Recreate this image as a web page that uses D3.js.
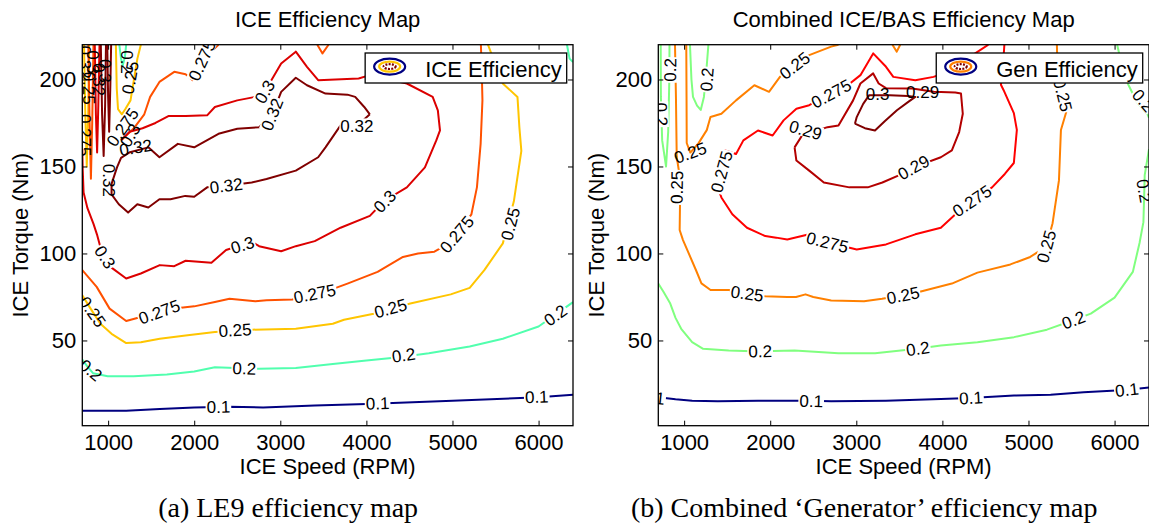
<!DOCTYPE html>
<meta charset="utf-8">

<!-- Load d3.js -->
<script src="https://d3js.org/d3.v7.min.js"></script>
<style>
  body { margin: 0; background: #fff; }
  svg { display: block; }
</style>

<div id="chart"></div>

<script>

// axis ranges and ticks, shared by both maps
const rpmDomain = [700, 6400];
const torqueDomain = [1, 220];
const rpmTicks = [1000, 2000, 3000, 4000, 5000, 6000];
const torqueTicks = [50, 100, 150, 200];

// ---- (a) ICE efficiency map: contour lines as [rpm, torque] ----
const iceLevels = [0.1, 0.2, 0.25, 0.275, 0.3, 0.32];

const ice010 = [[700,9.6],[1210,9.6],[1600,10.6],[2000,11.5],[2410,11.9],[2800,11.5],[3400,12.6],[4000,13.5],[5000,15.4],[6000,17.3],[6400,18.8]];
const ice020 = [[700,39],[760,35],[824,31.2],[995,29.4],[1296,29.4],[1682,30.4],[2000,32.1],[2240,34.6],[2755,33.7],[3180,34.2],[3610,36.5],[4000,38.5],[4380,40.4],[4725,42.7],[5200,46.5],[5585,51],[6000,58],[6400,72]];
const ice020Top = [[1130,220],[1150,212],[1170,208],[1195,213],[1210,220]];
const ice020Corner = [[6330,220],[6360,212],[6400,210]];
const ice025 = [[700,76],[800,68],[910,59.6],[1040,53.8],[1210,48.5],[1380,49],[1600,51],[1900,52.9],[2240,54.8],[2670,56.2],[3180,56.7],[3610,59.6],[3740,61.9],[4085,65.4],[4510,71.2],[4980,76.5],[5200,80.2],[5370,90.4],[5585,105.8],[5713,130],[5800,159],[5777,172.6],[5755,190],[5584,197.7],[5412,220]];
const ice025Top = [[1090,220],[1100,195],[1115,183],[1160,180],[1200,183],[1260,188],[1300,200],[1340,212],[1380,220]];
const ice025Spike = [[720,220],[735,180],[752,150],[768,180],[780,220]];
const ice0275 = [[700,90.4],[867,80.8],[1017,68.3],[1210,61.2],[1380,63.5],[1553,64.4],[1768,68.3],[2000,69.6],[2240,72.1],[2410,74],[2710,72.5],[2840,73.1],[3140,73.5],[3440,76.5],[3780,82.7],[4130,89.4],[4425,98],[4600,100],[4790,101],[4960,105.8],[5048,111],[5220,122.5],[5284,138],[5327,163],[5348,188],[5340,205],[5330,220]];
const ice0275Top = [[1150,165],[1300,172],[1420,180],[1488,190],[1596,198.6],[1768,204.4],[1900,203],[1982,199.6],[2089,211],[2282,220]];
const ice0275Dip = [[3430,220],[3490,215],[3560,220]];
const ice0275Spike = [[770,220],[785,175],[800,143],[815,175],[830,220]];
const ice030 = [[700,160],[705,148],[715,135],[760,126],[830,117],[870,111],[930,100],[1035,92],[1210,85.6],[1380,88.5],[1600,93.3],[1768,92.7],[1900,95.8],[2200,94.6],[2370,102],[2670,106.7],[2754,104.2],[3010,101.3],[3180,104.2],[3400,107.1],[3700,114.8],[4040,121.6],[4210,130.3],[4470,138],[4680,149.5],[4812,165],[4855,170.7],[4830,182.3],[4770,190],[4470,197.7],[4040,202.5],[3910,200.6],[3440,199.6],[3310,207.3],[3180,216],[3010,209.2],[2818,192.9],[2710,190],[2500,188],[2240,184.2],[2150,179.4],[1900,179],[1700,179],[1550,175],[1400,172],[1250,170],[1150,165]];
const ice030Spike = [[845,220],[858,180],[872,158],[886,185],[900,220]];
const ice032 = [[4040,180],[3975,184.2],[3870,190],[3780,191.3],[3525,191.9],[3310,196.7],[3180,201],[3010,192.9],[2903,179.4],[2754,172.6],[2500,171.7],[2282,168.8],[2000,161],[1810,163],[1596,155.3],[1467,161],[1253,158.2],[1150,155],[1103,149.5],[1040,140],[1040,134],[1124,128.3],[1232,123.5],[1339,128.3],[1467,126.4],[1596,131.2],[1725,131.2],[1896,133.1],[2000,132.6],[2150,138],[2370,138.9],[2668,140.8],[2840,142.8],[3180,147.6],[3440,155.3],[3525,161],[3700,173.6],[3890,173.6],[3950,176],[4040,180]];
const ice032Spike1 = [[915,220],[930,180],[948,156],[965,185],[975,220]];
const ice032Spike2 = [[990,220],[1000,190],[1012,170],[1025,195],[1035,220]];

const iceLines = [
  [0.1, ice010], [0.2, ice020], [0.2, ice020Top], [0.2, ice020Corner],
  [0.25, ice025], [0.25, ice025Top], [0.25, ice025Spike],
  [0.275, ice0275], [0.275, ice0275Top], [0.275, ice0275Dip], [0.275, ice0275Spike],
  [0.3, ice030], [0.3, ice030Spike],
  [0.32, ice032], [0.32, ice032Spike1], [0.32, ice032Spike2]
];

// contour labels: [level, rpm, torque, fixed angle (optional)]
const iceLabels = [
  [0.1, 2281, 11.9], [0.1, 4130, 13.9], [0.1, 5979, 17.7],
  [0.2, 800, 33, 40], [0.2, 2582, 34], [0.2, 4432, 41.6], [0.2, 6195, 64.6],
  [0.25, 820, 66.5, 55], [0.25, 2474, 56], [0.25, 4280, 68.5], [0.25, 5670, 117],
  [0.275, 1593, 66.5], [0.275, 3400, 77], [0.275, 5048, 111], [0.275, 2089, 211],
  [0.3, 965, 98], [0.3, 2560, 104.9], [0.3, 2818, 193], [0.3, 4212, 130],
  [0.32, 2903, 180], [0.32, 3890, 173.6], [0.32, 2370, 139],
  // crowded corner at low speed / high torque
  [0.32, 730, 210, 90], [0.25, 780, 195, 90], [0.3, 830, 210, 90], [0.32, 900, 200, 90],
  [0.275, 730, 168, 90], [0.3, 960, 205, 90], [0.32, 1017, 142, 90],
  [0.275, 1167, 172.6, -55], [0.3, 1253, 168, -60], [0.32, 1320, 161, -10],
  [0.2, 1215, 210, 90], [0.25, 1255, 201, -80]
];

// ---- (b) combined ICE/BAS "generator" efficiency map ----
const genLevels = [0.1, 0.2, 0.25, 0.275, 0.29, 0.3];

const gen010 = [[700,17.3],[900,16.2],[1093,15.4],[1390,15],[1858,15.4],[2474,15.3],[2708,15],[3345,15.4],[3982,16.3],[4322,16.9],[4832,18.3],[5257,18.8],[5640,20.2],[6127,21.5],[6400,23]];
const gen020 = [[700,82.7],[760,78],[839,71.2],[900,63],[966,56.7],[1093,49],[1221,45.2],[1518,44.2],[1879,43.7],[2283,44.2],[2793,42.7],[3218,42.7],[3706,45.2],[3982,47.1],[4407,49],[4832,51.9],[5214,56.2],[5512,61.5],[5724,65.4],[6000,74.6],[6212,89.4],[6290,106],[6335,118],[6345,135],[6350,145],[6400,160]];
const gen020Right = [[6030,220],[6100,205],[6160,197],[6260,187],[6383,180],[6400,178]];
const gen020Loop1 = [[728,220],[730,190],[745,165],[790,150],[815,170],[828,200],[830,220]];
const gen020Loop2 = [[1068,220],[1085,200],[1103,190],[1150,185],[1193,182.5],[1230,190],[1250,200],[1282,220]];
const gen025 = [[894,220],[905,190],[914,155.6],[956,142],[948,113.5],[987,107.7],[1137,90.5],[1201,82.8],[1307,79],[1520,79],[1730,76.9],[1943,75.4],[2198,75],[2300,75],[2410,76.5],[2500,75],[2708,73],[3090,72.5],[3300,74],[3536,76],[3727,77.9],[4110,82.7],[4407,89],[4790,93.7],[5020,98],[5206,103.9],[5280,117.4],[5354,142],[5377,171],[5455,184],[5400,195],[5338,204],[5330,220]];
const gen025Top = [[1025,220],[1028,190],[1030,163.5],[1072,158],[1166,163.3],[1263,170.9],[1306,178.4],[1433,180.3],[1603,188],[1816,196.7],[1986,192.9],[2113,201.5],[2283,208],[2453,214],[2708,218.9],[2793,220]];
const gen025Dip = [[3420,220],[3470,216],[3510,220]];
const gen0275Top = [[1433,147.6],[1476,159.2],[1603,157.2],[1688,165],[1858,170.7],[2028,167.8],[2155,176.5],[2304,183.2],[2453,185.2],[2708,192],[2878,195.8],[3048,202.5],[3196,215],[3345,207.3],[3430,201.5],[3685,199.6],[3897,201.5],[4100,205],[4350,214],[4534,220]];
const gen0275 = [[4720,220],[4700,205],[4680,197],[4710,194],[4830,180.7],[4865,171],[4830,152],[4725,145.7],[4577,138],[4343,130.3],[4152,122.5],[3982,114.8],[3685,111],[3345,105.2],[3005,102.3],[2665,106.5],[2453,111],[2198,108],[2070,109.1],[1943,110],[1730,114.8],[1560,122.5],[1433,132.2],[1390,138],[1412,143.8],[1433,147.6]];
const gen029 = [[2283,161],[2304,153.4],[2453,147.6],[2623,140.8],[2920,138],[3133,138],[3303,140.8],[3500,145],[3664,149.5],[3982,155.3],[4110,159.2],[4195,169.8],[4237,180.3],[4216,191.9],[4150,192.5],[3900,193],[3650,194.8],[3345,195],[3260,197.7],[3196,203.5],[3048,197.7],[2963,188],[2793,173.6],[2665,172.6],[2495,169.8],[2410,171],[2283,161]];
const gen030 = [[2984,174.6],[3005,178.4],[3080,186],[3150,191],[3388,191],[3600,190.5],[3685,190],[3600,187],[3472,182.3],[3330,176],[3217,170.7],[3100,172],[2984,174.6]];

const genLines = [
  [0.1, gen010], [0.2, gen020], [0.2, gen020Right], [0.2, gen020Loop1], [0.2, gen020Loop2],
  [0.25, gen025], [0.25, gen025Top], [0.25, gen025Dip],
  [0.275, gen0275Top], [0.275, gen0275],
  [0.29, gen029], [0.3, gen030]
];

const genLabels = [
  [0.1, 640, 17.3], [0.1, 2476, 15.3], [0.1, 4332, 17.1], [0.1, 6143, 21.7],
  [0.2, 1883, 43.9], [0.2, 3715, 45.3], [0.2, 5523, 61.8], [0.2, 6345, 136, 80], [0.2, 6335, 188],
  [0.2, 836, 205.5], [0.2, 738, 180], [0.2, 1263, 200],
  [0.25, 1732, 77], [0.25, 3543, 76], [0.25, 5206, 104], [0.25, 5400, 191], [0.25, 2283, 208],
  [0.25, 1072, 158, -20], [0.25, 914, 138],
  [0.275, 1435, 147], [0.275, 2708, 192], [0.275, 4343, 130.3], [0.275, 2665, 106.5],
  [0.29, 2410, 171], [0.29, 3664, 149.5], [0.29, 3770, 192.9, 0],
  [0.3, 3247, 191.5, 0]
];

// layout
const W = 1149, H = 525;
const plotTop = 44.7, plotW = 490.7, plotH = 381;
const sans = "'Liberation Sans', Arial, Helvetica, sans-serif";
const serif = "'Liberation Serif', 'Times New Roman', serif";

const panels = [
  {left: 82.3, title: "ICE Efficiency Map", caption: "(a) LE9 efficiency map",
   legend: "ICE Efficiency", levels: iceLevels, lines: iceLines, labels: iceLabels},
  {left: 658.3, title: "Combined ICE/BAS Efficiency Map", caption: "(b) Combined \u2018Generator\u2019 efficiency map",
   legend: "Gen Efficiency", levels: genLevels, lines: genLines, labels: genLabels}
];

// MATLAB-style jet colormap
function jet(t) {
  const c = v => Math.max(0, Math.min(1, v));
  return d3.rgb(255 * c(1.5 - Math.abs(4 * t - 3)),
                255 * c(1.5 - Math.abs(4 * t - 2)),
                255 * c(1.5 - Math.abs(4 * t - 1)));
}

function distToSeg(px, py, a, b) {
  const dx = b[0] - a[0], dy = b[1] - a[1];
  const len2 = dx * dx + dy * dy || 1;
  let t = ((px - a[0]) * dx + (py - a[1]) * dy) / len2;
  t = Math.max(0, Math.min(1, t));
  return Math.hypot(px - (a[0] + t * dx), py - (a[1] + t * dy));
}

const svg = d3.select("#chart")
  .append("svg")
    .attr("width", W)
    .attr("height", H);

svg.append("rect").attr("width", W).attr("height", H).attr("fill", "#fff");

panels.forEach((p, i) => {
  const g = svg.append("g")
    .attr("transform", `translate(${p.left},${plotTop})`);

  const x = d3.scaleLinear().domain(rpmDomain).range([0, plotW]);
  const y = d3.scaleLinear().domain(torqueDomain).range([plotH, 0]);
  const tScale = d3.scaleLinear().domain(d3.extent(p.levels)).range([0, 1]);
  const color = level => jet(tScale(level));

  g.append("clipPath").attr("id", "clip" + i)
    .append("rect").attr("width", plotW).attr("height", plotH);
  const plot = g.append("g").attr("clip-path", `url(#clip${i})`);

  // contour lines
  const line = d3.line().x(d => x(d[0])).y(d => y(d[1]));
  plot.selectAll("path.contour")
    .data(p.lines)
    .join("path")
      .attr("class", "contour")
      .attr("d", d => line(d[1]))
      .attr("fill", "none")
      .attr("stroke", d => color(d[0]))
      .attr("stroke-width", 2)
      .attr("stroke-linejoin", "round");

  // angle of the contour at a label position
  function labelAngle(level, px, py) {
    let best = Infinity, ang = 0;
    p.lines.filter(l => l[0] === level).forEach(l => {
      const pts = l[1].map(d => [x(d[0]), y(d[1])]);
      for (let k = 0; k < pts.length - 1; k++) {
        const dist = distToSeg(px, py, pts[k], pts[k + 1]);
        if (dist < best) {
          best = dist;
          ang = Math.atan2(pts[k + 1][1] - pts[k][1], pts[k + 1][0] - pts[k][0]) * 180 / Math.PI;
        }
      }
    });
    if (ang > 90) ang -= 180;
    if (ang <= -90) ang += 180;
    return ang;
  }

  // inline contour labels
  p.labels.forEach(([level, rpm, tq, fixed]) => {
    const px = x(rpm), py = y(tq);
    const angle = fixed === undefined ? labelAngle(level, px, py) : fixed;
    const lg = plot.append("g")
      .attr("transform", `translate(${px},${py}) rotate(${angle})`);
    const t = lg.append("text")
      .attr("text-anchor", "middle")
      .attr("dy", "0.36em")
      .attr("font-family", sans)
      .attr("font-size", 17)
      .attr("fill", "#000")
      .text(String(level));
    if (fixed === undefined) {
      const w = t.node().getComputedTextLength();
      lg.insert("rect", "text")
        .attr("x", -w / 2 - 1).attr("y", -7)
        .attr("width", w + 2).attr("height", 14)
        .attr("fill", "#fff");
    }
  });

  // axes: ticks inside on all four sides
  const xAxis = g.append("g")
    .attr("transform", `translate(0,${plotH})`)
    .call(d3.axisBottom(x).tickValues(rpmTicks).tickFormat(d3.format("d"))
      .tickSizeInner(-5).tickSizeOuter(0).tickPadding(9));
  const yAxis = g.append("g")
    .call(d3.axisLeft(y).tickValues(torqueTicks).tickFormat(d3.format("d"))
      .tickSizeInner(-5).tickSizeOuter(0).tickPadding(6));
  g.append("g")
    .call(d3.axisTop(x).tickValues(rpmTicks).tickSizeInner(-5).tickSizeOuter(0).tickFormat(() => ""));
  g.append("g")
    .attr("transform", `translate(${plotW},0)`)
    .call(d3.axisRight(y).tickValues(torqueTicks).tickSizeInner(-5).tickSizeOuter(0).tickFormat(() => ""));
  g.selectAll(".domain").remove();
  [xAxis, yAxis].forEach(a => a
    .attr("font-size", 22)
    .attr("font-family", sans)
    .selectAll("text").attr("fill", "#000"));

  g.append("rect")
    .attr("width", plotW).attr("height", plotH)
    .attr("fill", "none").attr("stroke", "#000").attr("stroke-width", 1.3);

  // legend
  const lgd = g.append("g");
  const lt = lgd.append("text")
    .attr("x", 60).attr("y", 24.3)
    .attr("font-family", sans).attr("font-size", 22)
    .text(p.legend);
  const boxW = 60 + lt.node().getComputedTextLength() + 5;
  lgd.insert("rect", "text")
    .attr("width", boxW).attr("height", 30)
    .attr("fill", "#fff").attr("stroke", "#000").attr("stroke-width", 1.3);
  const rings = [
    [15.5, 8, color(p.levels[0]), null],
    [10.5, 5, color(0.25), null],
    [6, 2.4, color(p.levels[p.levels.length - 1]), "2,1.2"]
  ];
  lgd.selectAll("ellipse")
    .data(rings)
    .join("ellipse")
      .attr("cx", 24.5).attr("cy", 13.6)
      .attr("rx", d => d[0]).attr("ry", d => d[1])
      .attr("fill", "none")
      .attr("stroke", d => d[2])
      .attr("stroke-width", 2.2)
      .attr("stroke-dasharray", d => d[3]);
  lgd.attr("transform", `translate(${plotW - 6.3 - boxW},8.3)`);

  // titles and labels
  g.append("text")
    .attr("x", plotW / 2).attr("y", -18.2)
    .attr("text-anchor", "middle")
    .attr("font-family", sans).attr("font-size", 22)
    .text(p.title);
  g.append("text")
    .attr("x", plotW / 2).attr("y", plotH + 48.5)
    .attr("text-anchor", "middle")
    .attr("font-family", sans).attr("font-size", 22)
    .text("ICE Speed (RPM)");
  g.append("text")
    .attr("transform", `translate(-54.3,${plotH / 2}) rotate(-90)`)
    .attr("text-anchor", "middle")
    .attr("font-family", sans).attr("font-size", 22)
    .text("ICE Torque (Nm)");
  g.append("text")
    .attr("x", plotW / 2 - 39.5).attr("y", 517 - plotTop)
    .attr("text-anchor", "middle")
    .attr("font-family", serif).attr("font-size", 28)
    .text(p.caption);
});

</script>
